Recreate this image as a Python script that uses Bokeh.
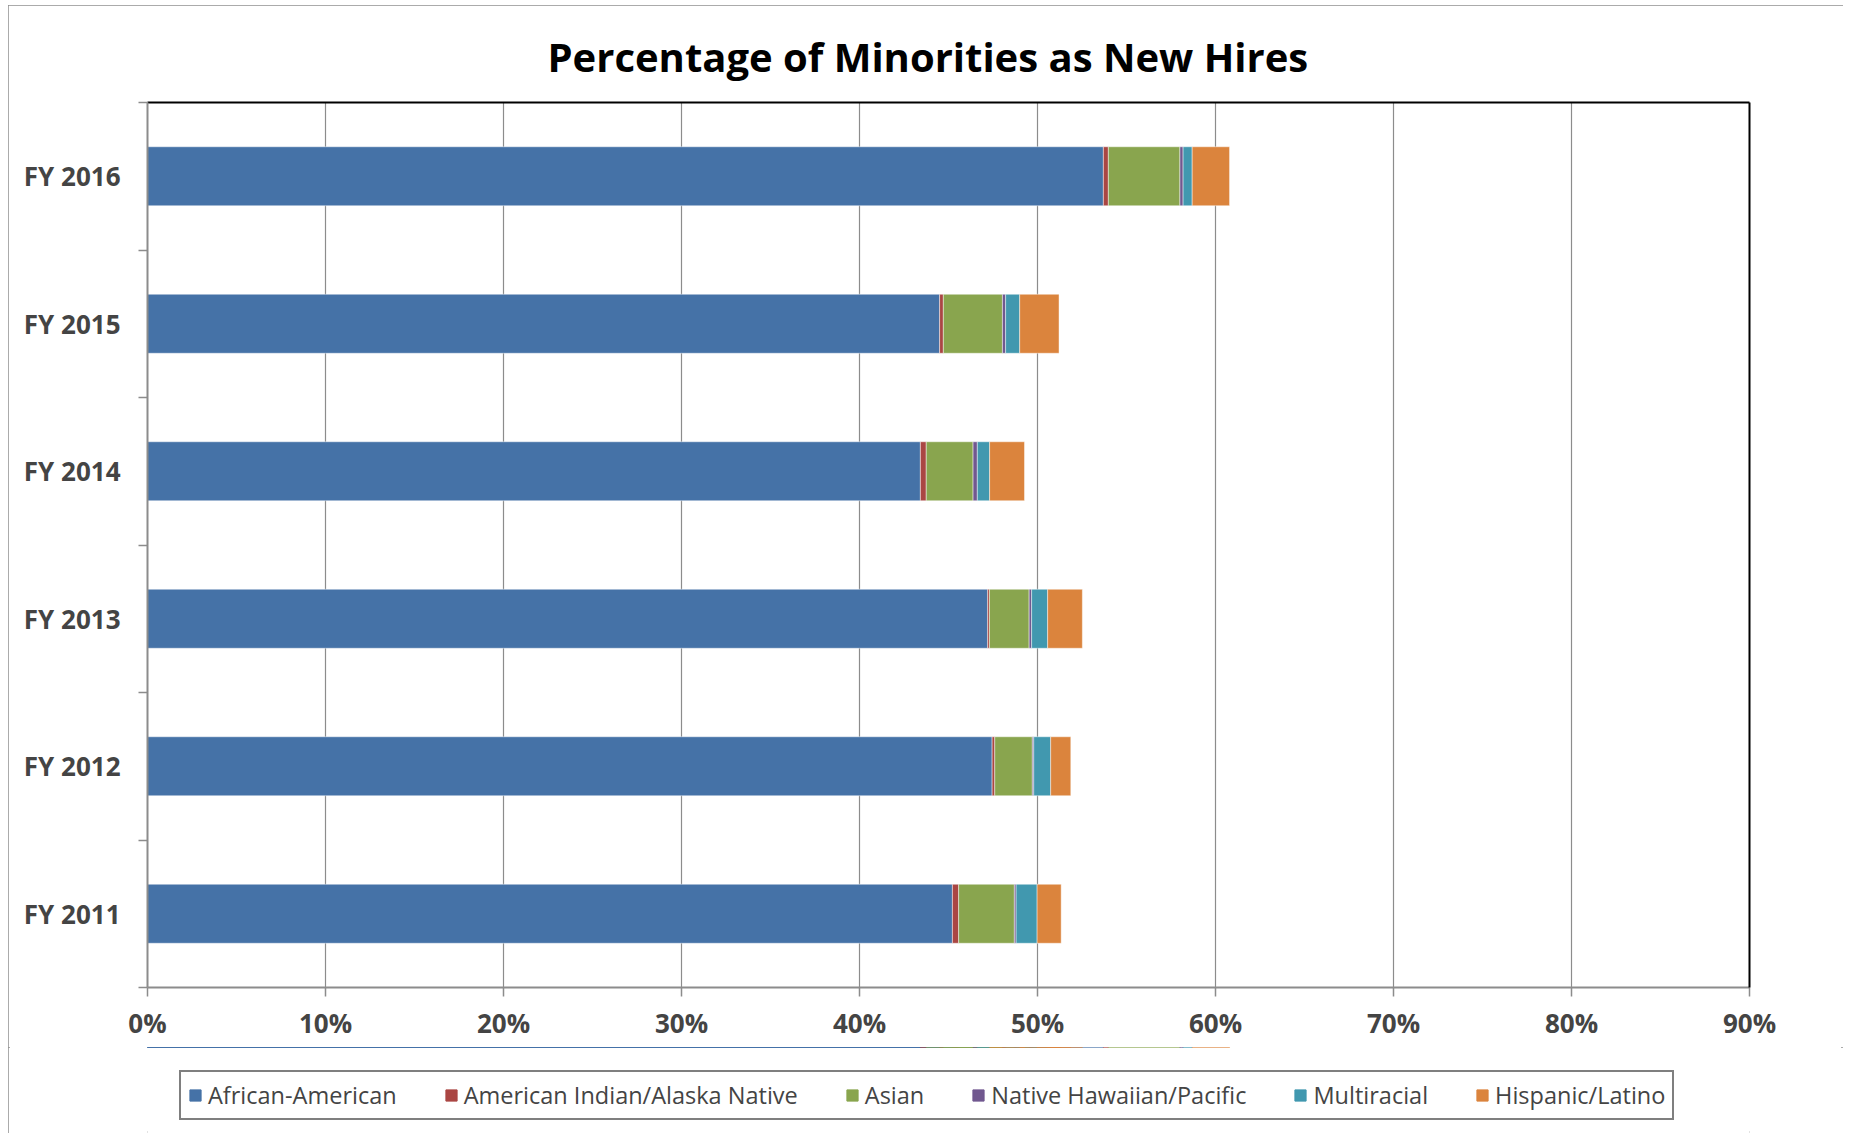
from bokeh.plotting import figure
from bokeh.layouts import column
from bokeh.models import (Range1d, ColumnDataSource, LinearAxis,
                          FixedTicker, PrintfTickFormatter, Legend, LegendItem, Grid)
from bokeh.embed import file_html
from bokeh.resources import INLINE

# ---- data (percent of new hires) ----
years = ["FY 2011", "FY 2012", "FY 2013", "FY 2014", "FY 2015", "FY 2016"]
african_american = [45.22, 47.45, 47.20, 43.42, 44.50, 53.70]
american_indian = [0.35, 0.15, 0.10, 0.33, 0.21, 0.28]
asian = [3.13, 2.11, 2.23, 2.63, 3.32, 4.02]
native_hawaiian = [0.10, 0.08, 0.14, 0.24, 0.18, 0.18]
multiracial = [1.18, 0.95, 0.90, 0.69, 0.79, 0.51]
hispanic = [1.35, 1.13, 1.95, 1.96, 2.21, 2.10]

series_labels = ["African-American", "American Indian/Alaska Native", "Asian",
                 "Native Hawaiian/Pacific", "Multiracial", "Hispanic/Latino"]
series_keys = ["aa", "ai", "as", "nh", "mr", "hl"]
colors = ["#4572A7", "#AA4643", "#89A54E", "#71588F", "#4198AF", "#DB843D"]
x_ticks = [0, 10, 20, 30, 40, 50, 60, 70, 80, 90]

# category slots: each year occupies one unit band, centred at index + 0.5
n = len(years)
centers = [i + 0.5 for i in range(n)]
bounds = list(range(n + 1))

source = ColumnDataSource(dict(y=centers, aa=african_american, ai=american_indian,
                               **{"as": asian}, nh=native_hawaiian, mr=multiracial,
                               hl=hispanic))

FONT = "Open Sans"
GRAY = "#8c8c8c"
W = 1835

p = figure(width=W, height=1042,
           y_range=Range1d(bounds[0], bounds[-1]),
           x_range=Range1d(x_ticks[0], x_ticks[-1]),
           output_backend="svg", toolbar_location=None,
           x_axis_location=None, y_axis_location=None,
           min_border_left=139, min_border_right=94, min_border_top=97,
           min_border_bottom=60)
p.grid.visible = False
p.outline_line_color = None

# title
p.title.text = "Percentage of Minorities as New Hires"
p.title.text_font = FONT
p.title.text_font_style = "bold"
p.title.text_font_size = "40px"
p.title.align = "left"
p.title.offset = 400
p.title.standoff = 37
p.title.text_color = "black"

# bars
renderers = p.hbar_stack(series_keys, y="y", height=0.4, color=colors, source=source,
                         line_color="white", line_alpha=0.45, line_width=1)

# x axis
xaxis = LinearAxis(ticker=FixedTicker(ticks=x_ticks, minor_ticks=[]),
                   formatter=PrintfTickFormatter(format="%d%%"),
                   axis_line_color=GRAY, axis_line_width=2,
                   major_tick_line_color=GRAY, major_tick_line_width=1.5,
                   major_tick_in=0, major_tick_out=9,
                   minor_tick_line_color=None,
                   major_label_text_font=FONT, major_label_text_font_style="bold",
                   major_label_text_font_size="26px", major_label_standoff=8)
p.add_layout(xaxis, "below")
p.add_layout(Grid(dimension=0, ticker=xaxis.ticker, grid_line_color=GRAY, grid_line_width=1.2))

# y axis: labels at band centres, tick marks at band boundaries
yaxis = LinearAxis(ticker=FixedTicker(ticks=centers, minor_ticks=bounds),
                   major_label_overrides={c: lab for c, lab in zip(centers, years)},
                   major_tick_line_color=None,
                   minor_tick_in=0, minor_tick_out=9, minor_tick_line_color=GRAY,
                   minor_tick_line_width=1.5,
                   axis_line_color=GRAY, axis_line_width=2,
                   major_label_text_font=FONT, major_label_text_font_style="bold",
                   major_label_text_font_size="26px", major_label_standoff=18)
p.add_layout(yaxis, "left")

# top / right frame borders
for side in ("above", "right"):
    ax = LinearAxis(ticker=FixedTicker(ticks=[], minor_ticks=[]),
                    major_label_text_font_size="0px", major_label_standoff=0,
                    axis_line_color="black", axis_line_width=2,
                    major_tick_line_color=None, minor_tick_line_color=None)
    p.add_layout(ax, side)

# legend strip: a small companion figure holding the legend below the chart.
# It carries the same stacked series (scrolled out of view) as legend proxies.
lg = figure(width=W, height=86, x_range=Range1d(x_ticks[0], x_ticks[-1]),
            y_range=Range1d(-3, -2),
            output_backend="svg", toolbar_location=None,
            x_axis_location=None, y_axis_location=None,
            min_border_left=0, min_border_right=0, min_border_top=0, min_border_bottom=0)
lg.grid.visible = False
lg.outline_line_color = None
proxies = lg.hbar_stack(series_keys, y="y", height=0.4, color=colors, source=source)
legend = Legend(items=[LegendItem(label=lab, renderers=[r]) for lab, r in zip(series_labels, proxies)],
                orientation="horizontal", location=(32, 13),
                label_text_font=FONT, label_text_font_size="23.5px",
                glyph_width=14, glyph_height=14, label_standoff=6, spacing=47,
                padding=7, margin=0,
                border_line_color="black", border_line_width=2)
lg.add_layout(legend, "center")

layout = column(p, lg, spacing=0,
                styles={"outline": "2px solid #8f8f8f", "outline-offset": "-2px",
                        "position": "relative", "left": "8px", "top": "5px"})

open("out.html", "w").write(file_html(layout, INLINE))
